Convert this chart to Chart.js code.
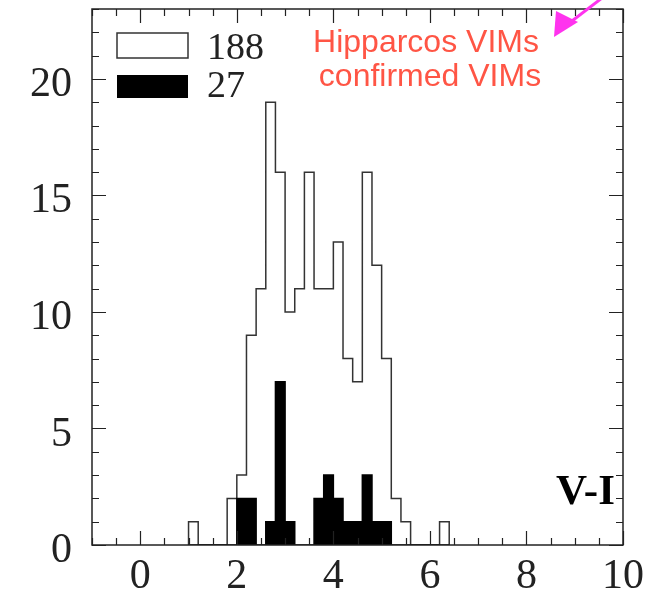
<!DOCTYPE html>
<html>
<head>
<meta charset="utf-8">
<title>V-I histogram</title>
<script src="https://cdn.jsdelivr.net/npm/chart.js@4"></script>
<style>
  html, body { margin: 0; padding: 0; background: #fff; }
  #wrap { width: 652px; height: 597px; }
</style>
</head>
<body>
<div id="wrap"><canvas id="histChart" width="652" height="597"></canvas></div>
<script>
// left edge of each 0.2-wide V-I bin, last entry closes the final bin
const binEdges = [1.0, 1.2, 1.4, 1.6, 1.8, 2.0, 2.2, 2.4, 2.6, 2.8, 3.0, 3.2, 3.4, 3.6,
                  3.8, 4.0, 4.2, 4.4, 4.6, 4.8, 5.0, 5.2, 5.4, 5.6, 5.8, 6.0, 6.2, 6.4];
// Hipparcos VIMs (188)
const hipparcosCounts = [1, 0, 0, 0, 2, 3, 9, 11, 19, 16, 10, 11, 16, 11,
                         11, 13, 8, 7, 16, 12, 8, 2, 1, 0, 0, 0, 1];
// confirmed VIMs (27)
const confirmedCounts = [0, 0, 0, 0, 0, 2, 2, 0, 1, 7, 1, 0, 0, 2,
                         3, 2, 1, 1, 3, 1, 1, 0, 0, 0, 0, 0, 0];

const xTickLabels = [0, 2, 4, 6, 8, 10];
const yTickLabels = [0, 5, 10, 15, 20];
const legendLabels = ['188', '27'];
const noteLines = ['Hipparcos VIMs', 'confirmed VIMs'];
const axisName = 'V-I';

// turn bin counts into points for a stepped line
function stepPoints(counts) {
  const pts = [{ x: binEdges[0], y: 0 }];
  counts.forEach((c, i) => pts.push({ x: binEdges[i], y: c }));
  pts.push({ x: binEdges[binEdges.length - 1], y: 0 });
  return pts;
}

const serif = '"Liberation Serif", "DejaVu Serif", serif';

// frame with inward ticks on all four sides, drawn from the scales
const framePlugin = {
  id: 'frame',
  afterDatasetsDraw(chart) {
    const { ctx, chartArea: a, scales } = chart;
    const xs = scales.x, ys = scales.y;
    ctx.save();
    ctx.strokeStyle = '#222';
    ctx.lineWidth = 1.5;
    ctx.strokeRect(a.left, a.top, a.right - a.left, a.bottom - a.top);
    ctx.lineWidth = 1.2;
    ctx.beginPath();
    for (let v = xs.min; v <= xs.max + 1e-9; v += 0.5) {
      const len = Math.abs(v % 2) < 1e-9 ? 14 : 7;
      const px = Math.round(xs.getPixelForValue(v)) + 0.5;
      ctx.moveTo(px, a.bottom); ctx.lineTo(px, a.bottom - len);
      ctx.moveTo(px, a.top); ctx.lineTo(px, a.top + len);
    }
    for (let v = ys.min; v <= ys.max + 1e-9; v += 1) {
      const len = v % 5 === 0 ? 14 : 7;
      const py = Math.round(ys.getPixelForValue(v)) + 0.5;
      ctx.moveTo(a.left, py); ctx.lineTo(a.left + len, py);
      ctx.moveTo(a.right, py); ctx.lineTo(a.right - len, py);
    }
    ctx.stroke();
    ctx.restore();
  }
};

// legend boxes, red note, arrow and axis name
const notesPlugin = {
  id: 'notes',
  afterDraw(chart) {
    const ctx = chart.ctx;
    ctx.save();
    ctx.strokeStyle = '#333';
    ctx.lineWidth = 1.5;
    ctx.fillStyle = '#fff';
    ctx.fillRect(117, 33, 71, 25);
    ctx.strokeRect(117, 33, 71, 25);
    ctx.fillStyle = '#000';
    ctx.fillRect(117, 75, 71, 23);

    ctx.fillStyle = '#222';
    ctx.font = '38px ' + serif;
    ctx.textAlign = 'left';
    ctx.textBaseline = 'alphabetic';
    ctx.fillText(legendLabels[0], 207, 59);
    ctx.fillText(legendLabels[1], 207, 97);

    ctx.fillStyle = '#ff5545';
    ctx.font = '32px "Liberation Sans", Arial, sans-serif';
    ctx.textAlign = 'center';
    ctx.fillText(noteLines[0], 426, 52);
    ctx.fillText(noteLines[1], 430, 86);

    ctx.strokeStyle = '#ff33ee';
    ctx.fillStyle = '#ff33ee';
    ctx.lineWidth = 3;
    ctx.beginPath();
    ctx.moveTo(602, -2); ctx.lineTo(568, 24);
    ctx.stroke();
    ctx.beginPath();
    ctx.moveTo(554, 37); ctx.lineTo(556, 11); ctx.lineTo(578, 22);
    ctx.closePath();
    ctx.fill();

    ctx.fillStyle = '#000';
    ctx.font = 'bold 43px ' + serif;
    ctx.textAlign = 'left';
    ctx.fillText(axisName, 556, 504);
    ctx.restore();
  }
};

const histChart = new Chart(document.getElementById('histChart'), {
  type: 'line',
  data: {
    datasets: [
      {
        label: 'confirmed VIMs',
        data: stepPoints(confirmedCounts),
        stepped: 'before',
        fill: 'origin',
        backgroundColor: '#000',
        borderColor: '#000',
        borderWidth: 1.5,
        pointRadius: 0,
        order: 0
      },
      {
        label: 'Hipparcos VIMs',
        data: stepPoints(hipparcosCounts),
        stepped: 'before',
        fill: false,
        borderColor: '#333',
        borderWidth: 1.5,
        pointRadius: 0,
        order: 1
      }
    ]
  },
  options: {
    responsive: false,
    animation: false,
    devicePixelRatio: 1,
    layout: { autoPadding: false, padding: { top: 9, right: 29, left: 0, bottom: 0 } },
    plugins: {
      legend: { display: false },
      tooltip: { enabled: false }
    },
    scales: {
      x: {
        type: 'linear',
        min: -1,
        max: 10,
        grid: { display: false, drawTicks: false },
        border: { display: false },
        ticks: { color: '#222', font: { family: serif, size: 42 }, padding: 7, maxRotation: 0, autoSkip: false },
        afterBuildTicks: s => { s.ticks = xTickLabels.map(v => ({ value: v })); },
        afterFit: s => { s.height = 52; s.paddingLeft = 0; s.paddingRight = 0; }
      },
      y: {
        type: 'linear',
        min: 0,
        max: 23,
        grid: { display: false, drawTicks: false },
        border: { display: false },
        ticks: { color: '#222', font: { family: serif, size: 42 }, padding: 20, labelOffset: 6 },
        afterBuildTicks: s => { s.ticks = yTickLabels.map(v => ({ value: v })); },
        afterFit: s => { s.width = 92; s.paddingTop = 0; s.paddingBottom = 0; }
      }
    }
  },
  plugins: [framePlugin, notesPlugin]
});
</script>
</body>
</html>
